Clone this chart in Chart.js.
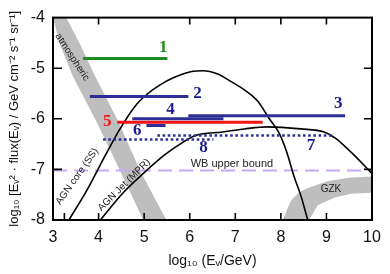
<!DOCTYPE html>
<html>
<head>
<meta charset="utf-8">
<script src="https://cdn.jsdelivr.net/npm/chart.js@4.4.1/dist/chart.umd.min.js"></script>
<style>
  html, body { margin: 0; padding: 0; background: #fff; }
  canvas { display: block; }
</style>
</head>
<body>
<canvas id="fluxChart" width="390" height="274"></canvas>
<script>
// Data ---------------------------------------------------------------------->
const xTickValues = [3, 4, 5, 6, 7, 8, 9, 10];
const yTickValues = [-8, -7, -6, -5, -4];
const topTickMarks = [4, 6, 7, 8, 9];
const bottomTickMarks = [3.25, 4, 5, 6, 7, 8, 9];
const sideTickMarks = [-7, -6, -5];

// sensitivity bars 1..8 (level, x start, x end)
const barNames = ['1', '2', '3', '4', '5', '6', '7', '8'];
const barLevels = [-4.81, -5.56, -5.94, -6.0, -6.07, -6.13, -6.33, -6.41];
const barStarts = [3.66, 3.81, 5.97, 4.74, 4.41, 5.05, 5.29, 4.10];
const barEnds = [5.51, 5.97, 9.41, 6.74, 7.60, 5.47, 9.17, 6.52];

// AGN core (SS)
const agnCoreX = [3.35, 3.77, 4.15, 4.47, 4.81, 5.07, 5.35, 5.64, 6.02, 6.30, 6.60, 6.90, 7.20, 7.49, 7.74, 7.96, 8.13, 8.29, 8.44, 8.59];
const agnCoreY = [-8.0, -7.37, -6.72, -6.2, -5.74, -5.51, -5.33, -5.19, -5.07, -5.05, -5.11, -5.26, -5.43, -5.65, -5.99, -6.28, -6.66, -7.14, -7.52, -8.0];

// AGN Jet (MPR)
const agnJetX = [4.04, 4.52, 5.03, 5.47, 5.84, 6.13, 6.72, 7.20, 7.71, 8.44, 8.95, 9.21, 9.54, 10.0];
const agnJetY = [-8.0, -7.48, -7.04, -6.70, -6.47, -6.33, -6.26, -6.20, -6.16, -6.20, -6.26, -6.39, -6.66, -7.08];

// atmospheric band outline (down the left edge, back up the right edge)
const atmoX = [3.0, 3.15, 3.44, 3.95, 4.48, 4.98, 5.49, 4.92, 4.43, 3.93, 3.59, 3.29, 3.0];
const atmoY = [-4.0, -4.52, -5.17, -6.05, -7.04, -8.0, -8.0, -7.04, -6.05, -5.17, -4.52, -4.0, -4.0];

// GZK band outline (outer edge, then inner edge back)
const gzkX = [8.04, 8.22, 8.40, 8.59, 9.04, 9.54, 10.0, 10.0, 9.54, 9.17, 8.81, 8.62, 8.04];
const gzkY = [-8.0, -7.62, -7.45, -7.37, -7.23, -7.16, -7.14, -7.46, -7.48, -7.56, -7.71, -8.0, -8.0];

// Waxman-Bahcall upper bound
const wbLevel = -7.02;

// Chart ---------------------------------------------------------------------->
document.addEventListener('DOMContentLoaded', function () {
  const ctx = document.getElementById('fluxChart').getContext('2d');

  const navy = '#2e2e96';
  const barColors = ['#1e8c1e', navy, navy, navy, '#f41414', navy, navy, navy];
  const labelColors = ['#1e8c1e', '#1c1c8a', '#1c1c8a', '#1c1c8a', '#f41414', '#1c1c8a', '#1c1c8a', '#1c1c8a'];
  // where the bar numbers sit (data units)
  const barLabelPos = [[5.42, -4.59], [6.17, -5.51], [9.26, -5.70], [5.58, -5.82],
                       [4.19, -6.05], [4.85, -6.24], [8.66, -6.53], [6.30, -6.56]];

  const toPoints = (xs, ys) => xs.map((x, i) => ({ x: x, y: ys[i] }));

  const datasets = [];

  // grey bands
  datasets.push({
    data: toPoints(atmoX, atmoY), borderWidth: 0, backgroundColor: '#bebebe',
    fill: 'shape', tension: 0, order: 10
  });
  datasets.push({
    data: toPoints(gzkX, gzkY), borderWidth: 0, backgroundColor: '#bebebe',
    fill: 'shape', tension: 0, order: 10
  });

  // model curves
  datasets.push({
    data: toPoints(agnCoreX, agnCoreY), borderColor: '#000', borderWidth: 1.6,
    cubicInterpolationMode: 'monotone', order: 5
  });
  datasets.push({
    data: toPoints(agnJetX, agnJetY), borderColor: '#000', borderWidth: 1.6,
    cubicInterpolationMode: 'monotone', order: 5
  });

  // WB bound
  datasets.push({
    data: [{ x: 3, y: wbLevel }, { x: 10, y: wbLevel }], borderColor: '#c9a7f2',
    borderWidth: 2, borderDash: [14, 7], order: 6
  });

  // sensitivity bars
  barNames.forEach((name, i) => {
    const dotted = name === '7' || name === '8';
    datasets.push({
      data: [{ x: barStarts[i], y: barLevels[i] }, { x: barEnds[i], y: barLevels[i] }],
      borderColor: barColors[i],
      borderWidth: dotted ? 2.6 : 3,
      borderDash: dotted ? [2.6, 2.6] : [],
      order: 1
    });
  });

  // text, frame and inward ticks
  const overlay = {
    id: 'overlay',
    afterDatasetsDraw(chart) {
      const c = chart.ctx;
      const a = chart.chartArea;
      const sx = chart.scales.x;
      const sy = chart.scales.y;
      const px = v => sx.getPixelForValue(v);
      const py = v => sy.getPixelForValue(v);

      c.save();
      c.textAlign = 'center';
      c.textBaseline = 'middle';

      // bar numbers
      c.font = 'bold 17px "Liberation Serif", "Times New Roman", serif';
      barNames.forEach((name, i) => {
        c.fillStyle = labelColors[i];
        c.fillText(name, px(barLabelPos[i][0]), py(barLabelPos[i][1]));
      });

      // rotated curve labels
      c.fillStyle = '#222';
      c.font = '10px "Liberation Sans", Arial, sans-serif';
      const rotated = (text, x, y, deg) => {
        c.save();
        c.translate(px(x), py(y));
        c.rotate(deg * Math.PI / 180);
        c.fillText(text, 0, 0);
        c.restore();
      };
      rotated('atmospheric', 3.42, -4.78, 57);
      rotated('AGN core (SS)', 3.53, -7.14, -55);
      rotated('AGN Jet (MPR)', 4.56, -7.31, -45);

      c.fillText('GZK', px(9.10), py(-7.39));
      c.font = '11px "Liberation Sans", Arial, sans-serif';
      c.textAlign = 'left';
      c.fillText('WB upper bound', px(6.02), py(-6.9));

      // frame
      c.strokeStyle = '#000';
      c.lineWidth = 2;
      c.strokeRect(a.left, a.top, a.right - a.left, a.bottom - a.top);

      // inward tick marks
      c.lineWidth = 1.6;
      c.beginPath();
      bottomTickMarks.forEach(v => { c.moveTo(px(v), a.bottom); c.lineTo(px(v), a.bottom - 7); });
      topTickMarks.forEach(v => { c.moveTo(px(v), a.top); c.lineTo(px(v), a.top + 7); });
      sideTickMarks.forEach(v => {
        c.moveTo(a.left, py(v)); c.lineTo(a.left + 9, py(v));
        c.moveTo(a.right, py(v)); c.lineTo(a.right - 8, py(v));
      });
      c.stroke();
      c.restore();
    }
  };

  new Chart(ctx, {
    type: 'line',
    data: { datasets: datasets },
    options: {
      responsive: false,
      animation: false,
      layout: { padding: { top: 11, right: 18, left: 0, bottom: 0 } },
      elements: { point: { radius: 0 } },
      plugins: { legend: { display: false }, tooltip: { enabled: false } },
      scales: {
        x: {
          type: 'linear', min: 3, max: 10,
          afterBuildTicks: s => { s.ticks = xTickValues.map(v => ({ value: v })); },
          afterFit: s => { s.height = 54; },
          grid: { display: false, drawTicks: false },
          border: { display: false },
          ticks: { color: '#111', padding: 8, font: { size: 16, family: '"Liberation Sans", Arial, sans-serif' } },
          title: {
            display: true, text: 'log₁₀ (Eᵥ/GeV)', color: '#111',
            font: { size: 14, family: '"Liberation Sans", Arial, sans-serif' },
            padding: { top: 0, bottom: 4 }
          }
        },
        y: {
          type: 'linear', min: -8, max: -4,
          afterBuildTicks: s => { s.ticks = yTickValues.map(v => ({ value: v })); },
          afterFit: s => { s.width = 53; },
          grid: { display: false, drawTicks: false },
          border: { display: false },
          ticks: { color: '#111', padding: 8, font: { size: 16, family: '"Liberation Sans", Arial, sans-serif' } },
          title: {
            display: true, text: 'log₁₀ [Eᵥ² · flux(Eᵥ) / GeV cm⁻² s⁻¹ sr⁻¹]', color: '#111',
            font: { size: 13, family: '"Liberation Sans", Arial, sans-serif' },
            padding: { top: 7, bottom: 0 }
          }
        }
      }
    },
    plugins: [overlay]
  });
});
</script>
</body>
</html>
